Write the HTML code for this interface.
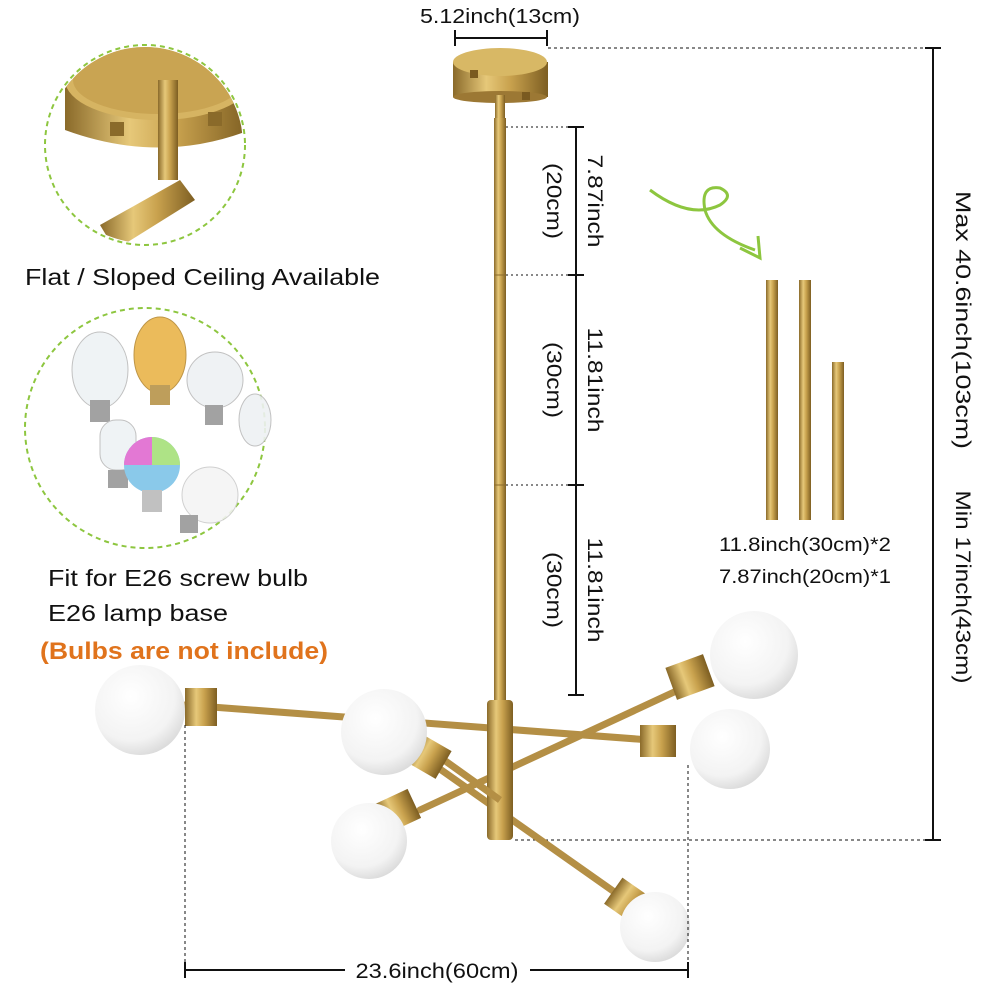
<!DOCTYPE html>
<html><head><meta charset="utf-8"><style>
html,body{margin:0;padding:0;background:#fff;}
svg{display:block;font-family:"Liberation Sans",Arial,sans-serif;}
</style></head><body>
<svg width="1000" height="1000" viewBox="0 0 1000 1000" xmlns="http://www.w3.org/2000/svg">
<defs>
<linearGradient id="g" x1="0" x2="1" y1="0" y2="0">
<stop offset="0" stop-color="#8a6a2a"/><stop offset="0.35" stop-color="#e6c879"/><stop offset="0.6" stop-color="#c9a24e"/><stop offset="1" stop-color="#7d5e22"/>
</linearGradient>
<radialGradient id="b" cx="0.4" cy="0.35" r="0.7">
<stop offset="0" stop-color="#ffffff"/><stop offset="0.7" stop-color="#f3f3f3"/><stop offset="1" stop-color="#d8d8d8"/>
</radialGradient>
</defs>

<!-- top left circle -->
<circle cx="145" cy="145" r="100" fill="#fff" stroke="#8dc63f" stroke-width="2" stroke-dasharray="5,4"/>
<clipPath id="c1"><circle cx="145" cy="145" r="98"/></clipPath>
<g clip-path="url(#c1)">
<path d="M65 80 L65 130 Q160 165 250 130 L250 80 Z" fill="url(#g)"/>
<ellipse cx="158" cy="80" rx="93" ry="40" fill="#d6b462"/>
<ellipse cx="158" cy="80" rx="85" ry="34" fill="#c9a452"/>
<rect x="110" y="122" width="14" height="14" fill="#8a6a2a"/>
<rect x="208" y="112" width="14" height="14" fill="#8a6a2a"/>
<rect x="158" y="80" width="20" height="100" fill="url(#g)"/>
<path d="M100 225 L180 180 L195 200 L115 250 Z" fill="url(#g)"/>
</g>
<text x="25" y="285" font-size="23" fill="#111" textLength="355" lengthAdjust="spacingAndGlyphs">Flat / Sloped Ceiling Available</text>

<!-- bulbs circle -->
<circle cx="145" cy="428" r="120" fill="#fff" stroke="#8dc63f" stroke-width="2" stroke-dasharray="5,4"/>
<g opacity="0.9">
<ellipse cx="100" cy="370" rx="28" ry="38" fill="#eef2f4" stroke="#bbb"/>
<rect x="90" y="400" width="20" height="22" fill="#999"/>
<ellipse cx="160" cy="355" rx="26" ry="38" fill="#e9b44a" stroke="#b78a33"/>
<rect x="150" y="385" width="20" height="20" fill="#b8944a"/>
<circle cx="215" cy="380" r="28" fill="#eef1f3" stroke="#bbb"/>
<rect x="205" y="405" width="18" height="20" fill="#999"/>
<ellipse cx="255" cy="420" rx="16" ry="26" fill="#eef1f3" stroke="#bbb"/>
<rect x="100" y="420" width="36" height="50" rx="16" fill="#eef2f4" stroke="#bbb"/>
<rect x="108" y="470" width="20" height="18" fill="#999"/>
<circle cx="152" cy="465" r="28" fill="#7ec4e8"/>
<path d="M124 465 A28 28 0 0 1 152 437 L152 465 Z" fill="#e06ad0"/>
<path d="M152 437 A28 28 0 0 1 180 465 L152 465Z" fill="#a6e07a"/>
<rect x="142" y="490" width="20" height="22" fill="#bbb"/>
<circle cx="210" cy="495" r="28" fill="#f4f4f4" stroke="#ccc"/>
<rect x="180" y="515" width="18" height="18" fill="#999"/>
</g>
<text x="48" y="586" font-size="23" fill="#111" textLength="260" lengthAdjust="spacingAndGlyphs">Fit for E26 screw bulb</text>
<text x="48" y="621" font-size="23" fill="#111" textLength="180" lengthAdjust="spacingAndGlyphs">E26 lamp base</text>
<text x="40" y="659" font-size="24" font-weight="bold" fill="#e0731c" textLength="288" lengthAdjust="spacingAndGlyphs">(Bulbs are not include)</text>

<!-- top dimension -->
<text x="500" y="23" font-size="20" text-anchor="middle" fill="#111" textLength="160" lengthAdjust="spacingAndGlyphs">5.12inch(13cm)</text>
<line x1="455" y1="38" x2="547" y2="38" stroke="#111" stroke-width="2"/>
<line x1="455" y1="30" x2="455" y2="46" stroke="#111" stroke-width="2"/>
<line x1="547" y1="30" x2="547" y2="46" stroke="#111" stroke-width="2"/>

<!-- canopy -->
<rect x="453" y="62" width="95" height="35" fill="url(#g)"/>
<ellipse cx="500" cy="62" rx="47" ry="14" fill="#d8b865"/>
<ellipse cx="500" cy="97" rx="47" ry="6" fill="#9c7834"/>
<rect x="470" y="70" width="8" height="8" fill="#7a5a20"/>
<rect x="522" y="92" width="8" height="8" fill="#7a5a20"/>
<rect x="495" y="95" width="10" height="25" fill="url(#g)"/>
<!-- rod -->
<rect x="494" y="118" width="12" height="585" fill="url(#g)"/>
<line x1="494" y1="275" x2="506" y2="275" stroke="#8a6a2a"/>
<line x1="494" y1="485" x2="506" y2="485" stroke="#8a6a2a"/>

<!-- rod dimension -->
<line x1="576" y1="127" x2="576" y2="695" stroke="#111" stroke-width="2"/>
<g stroke="#111" stroke-width="2">
<line x1="568" y1="127" x2="584" y2="127"/><line x1="568" y1="275" x2="584" y2="275"/>
<line x1="568" y1="485" x2="584" y2="485"/><line x1="568" y1="695" x2="584" y2="695"/>
<line x1="506" y1="127" x2="568" y2="127" stroke-dasharray="2,3" stroke-width="1"/>
<line x1="506" y1="275" x2="568" y2="275" stroke-dasharray="2,3" stroke-width="1"/>
<line x1="506" y1="485" x2="568" y2="485" stroke-dasharray="2,3" stroke-width="1"/>
</g>
<g font-size="21" fill="#111" text-anchor="middle">
<text transform="translate(588,201) rotate(90)" textLength="93" lengthAdjust="spacingAndGlyphs">7.87inch</text>
<text transform="translate(547,201) rotate(90)" textLength="76" lengthAdjust="spacingAndGlyphs">(20cm)</text>
<text transform="translate(588,380) rotate(90)" textLength="105" lengthAdjust="spacingAndGlyphs">11.81inch</text>
<text transform="translate(547,380) rotate(90)" textLength="76" lengthAdjust="spacingAndGlyphs">(30cm)</text>
<text transform="translate(588,590) rotate(90)" textLength="105" lengthAdjust="spacingAndGlyphs">11.81inch</text>
<text transform="translate(547,590) rotate(90)" textLength="76" lengthAdjust="spacingAndGlyphs">(30cm)</text>
</g>

<!-- right dimension -->
<line x1="548" y1="48" x2="933" y2="48" stroke="#111" stroke-dasharray="3,3"/>
<line x1="515" y1="840" x2="933" y2="840" stroke="#111" stroke-dasharray="3,3"/>
<line x1="933" y1="48" x2="933" y2="840" stroke="#111" stroke-width="2"/>
<line x1="925" y1="48" x2="941" y2="48" stroke="#111" stroke-width="2"/>
<line x1="925" y1="840" x2="941" y2="840" stroke="#111" stroke-width="2"/>
<g font-size="21" fill="#111" text-anchor="middle">
<text transform="translate(956,320) rotate(90)" textLength="258" lengthAdjust="spacingAndGlyphs">Max 40.6inch(103cm)</text>
<text transform="translate(956,587) rotate(90)" textLength="193" lengthAdjust="spacingAndGlyphs">Min 17inch(43cm)</text>
</g>

<!-- green arrow -->
<path d="M650 190 Q690 220 720 205 Q735 195 720 188 Q700 185 705 210 Q712 235 755 250" fill="none" stroke="#8dc63f" stroke-width="3"/>
<path d="M740 248 L760 258 L758 236" fill="none" stroke="#8dc63f" stroke-width="3"/>

<!-- rods -->
<rect x="766" y="280" width="12" height="240" fill="url(#g)"/>
<rect x="799" y="280" width="12" height="240" fill="url(#g)"/>
<rect x="832" y="362" width="12" height="158" fill="url(#g)"/>
<text x="805" y="551" font-size="19" text-anchor="middle" fill="#111" textLength="172" lengthAdjust="spacingAndGlyphs">11.8inch(30cm)*2</text>
<text x="805" y="583" font-size="19" text-anchor="middle" fill="#111" textLength="172" lengthAdjust="spacingAndGlyphs">7.87inch(20cm)*1</text>

<!-- chandelier arms -->
<g stroke-linecap="round">
<line x1="185" y1="705" x2="650" y2="740" stroke="#b48f45" stroke-width="7"/>
<line x1="700" y1="680" x2="420" y2="810" stroke="#b48f45" stroke-width="7"/>
<line x1="420" y1="755" x2="640" y2="910" stroke="#b48f45" stroke-width="7"/>
</g>
<rect x="487" y="700" width="26" height="140" rx="4" fill="url(#g)"/>
<line x1="430" y1="750" x2="500" y2="800" stroke="#b48f45" stroke-width="7"/>
<!-- sockets -->
<rect x="185" y="688" width="32" height="38" fill="url(#g)"/>
<rect x="640" y="725" width="36" height="32" fill="url(#g)"/>
<rect x="670" y="660" width="40" height="34" transform="rotate(-20 690 677)" fill="url(#g)"/>
<rect x="410" y="740" width="36" height="32" transform="rotate(30 428 756)" fill="url(#g)"/>
<rect x="380" y="795" width="36" height="32" transform="rotate(-25 398 811)" fill="url(#g)"/>
<rect x="610" y="885" width="36" height="32" transform="rotate(35 628 901)" fill="url(#g)"/>
<!-- bulbs -->
<circle cx="140" cy="710" r="45" fill="url(#b)"/>
<circle cx="384" cy="732" r="43" fill="url(#b)"/>
<circle cx="754" cy="655" r="44" fill="url(#b)"/>
<circle cx="730" cy="749" r="40" fill="url(#b)"/>
<circle cx="369" cy="841" r="38" fill="url(#b)"/>
<circle cx="655" cy="927" r="35" fill="url(#b)"/>

<!-- bottom dimension -->
<line x1="185" y1="725" x2="185" y2="970" stroke="#111" stroke-dasharray="3,3"/>
<line x1="688" y1="765" x2="688" y2="970" stroke="#111" stroke-dasharray="3,3"/>
<line x1="185" y1="970" x2="345" y2="970" stroke="#111" stroke-width="2"/>
<line x1="530" y1="970" x2="688" y2="970" stroke="#111" stroke-width="2"/>
<line x1="185" y1="962" x2="185" y2="978" stroke="#111" stroke-width="2"/>
<line x1="688" y1="962" x2="688" y2="978" stroke="#111" stroke-width="2"/>
<text x="437" y="978" font-size="21" text-anchor="middle" fill="#111" textLength="163" lengthAdjust="spacingAndGlyphs">23.6inch(60cm)</text>
</svg>
</body></html>
